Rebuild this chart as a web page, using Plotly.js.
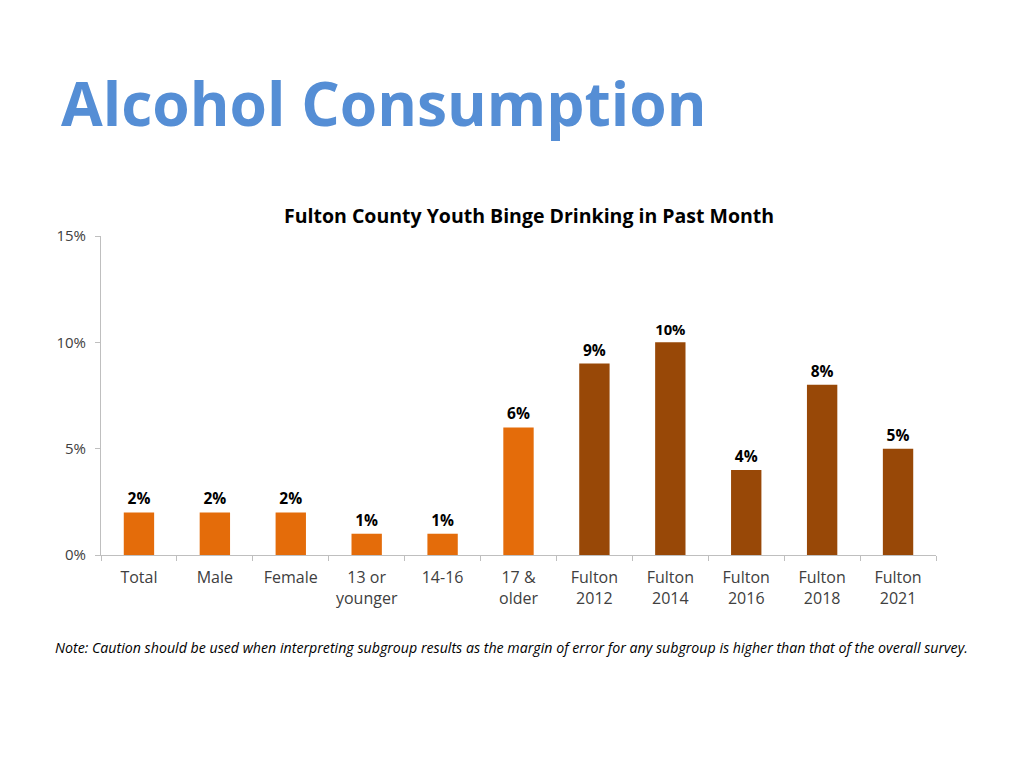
<!DOCTYPE html>
<html>
<head>
<meta charset="utf-8">
<script src="https://cdn.plot.ly/plotly-3.0.1.min.js"></script>
<style>html,body{margin:0;padding:0;background:#fff;}#chart{width:1024px;height:768px;}</style>
</head>
<body>
<div id="chart"></div>
<script>
const categories = ["Total", "Male", "Female", "13 or<br>younger", "14-16", "17 &<br>older", "Fulton<br>2012", "Fulton<br>2014", "Fulton<br>2016", "Fulton<br>2018", "Fulton<br>2021"];
const values = [2, 2, 2, 1, 1, 6, 9, 10, 4, 8, 5];
const groups = ["subgroup", "subgroup", "subgroup", "subgroup", "subgroup", "subgroup", "year", "year", "year", "year", "year"];
const yTicks = [0, 5, 10, 15];
const yTickLabels = ["0%", "5%", "10%", "15%"];
const pageTitle = "Alcohol Consumption";
const chartTitle = "Fulton County Youth Binge Drinking in Past Month";
const note = "Note: Caution should be used when interpreting subgroup results as the margin of error for any subgroup is higher than that of the overall survey.";

const groupColors = {subgroup: "#E46C0A", year: "#984807"};
const font = "'Open Sans', 'Noto Sans', sans-serif";

const trace = {
  type: "bar",
  x: categories,
  y: values,
  marker: {color: groups.map(g => groupColors[g])},
  text: values.map(v => v + "%"),
  textposition: "outside",
  cliponaxis: false,
  textfont: {family: font, size: 15.5, color: "#000000", weight: "bold"},
  hoverinfo: "skip"
};

const layout = {
  width: 1024, height: 768,
  paper_bgcolor: "#ffffff", plot_bgcolor: "#ffffff",
  margin: {l: 101, r: 88, t: 236, b: 213},
  showlegend: false,
  bargap: 0.6,
  font: {family: font, color: "#404040"},
  xaxis: {
    type: "category",
    showgrid: false,
    showline: true, linecolor: "#BFBFBF", linewidth: 1,
    ticks: "outside", tickson: "boundaries", ticklen: 5, tickcolor: "#BFBFBF",
    ticklabelstandoff: 8,
    tickfont: {family: font, size: 16, color: "#404040"},
    zeroline: false
  },
  yaxis: {
    range: [0, 15],
    tickvals: yTicks, ticktext: yTickLabels,
    showgrid: false,
    showline: true, linecolor: "#BFBFBF", linewidth: 1,
    ticks: "outside", ticklen: 5, tickcolor: "#BFBFBF",
    ticklabelstandoff: 6,
    tickfont: {family: font, size: 15, color: "#404040"},
    zeroline: false
  },
  annotations: [
    {text: "<b>" + pageTitle + "</b>", xref: "paper", yref: "paper", x: -0.05, y: 1.42,
     xanchor: "left", yanchor: "middle", showarrow: false,
     font: {family: font, size: 60.5, color: "#558ED5"}},
    {text: "<b>" + chartTitle + "</b>", xref: "paper", yref: "paper", x: 0.5126, y: 1.063,
     xanchor: "center", yanchor: "middle", showarrow: false,
     font: {family: font, size: 19.5, color: "#000000"}},
    {text: "<i>" + note + "</i>", xref: "paper", yref: "paper", x: -0.057, y: -0.29,
     xanchor: "left", yanchor: "middle", showarrow: false,
     font: {family: font, size: 14.2, color: "#000000"}}
  ]
};

Plotly.newPlot("chart", [trace], layout, {displayModeBar: false, staticPlot: true});
</script>
</body>
</html>
